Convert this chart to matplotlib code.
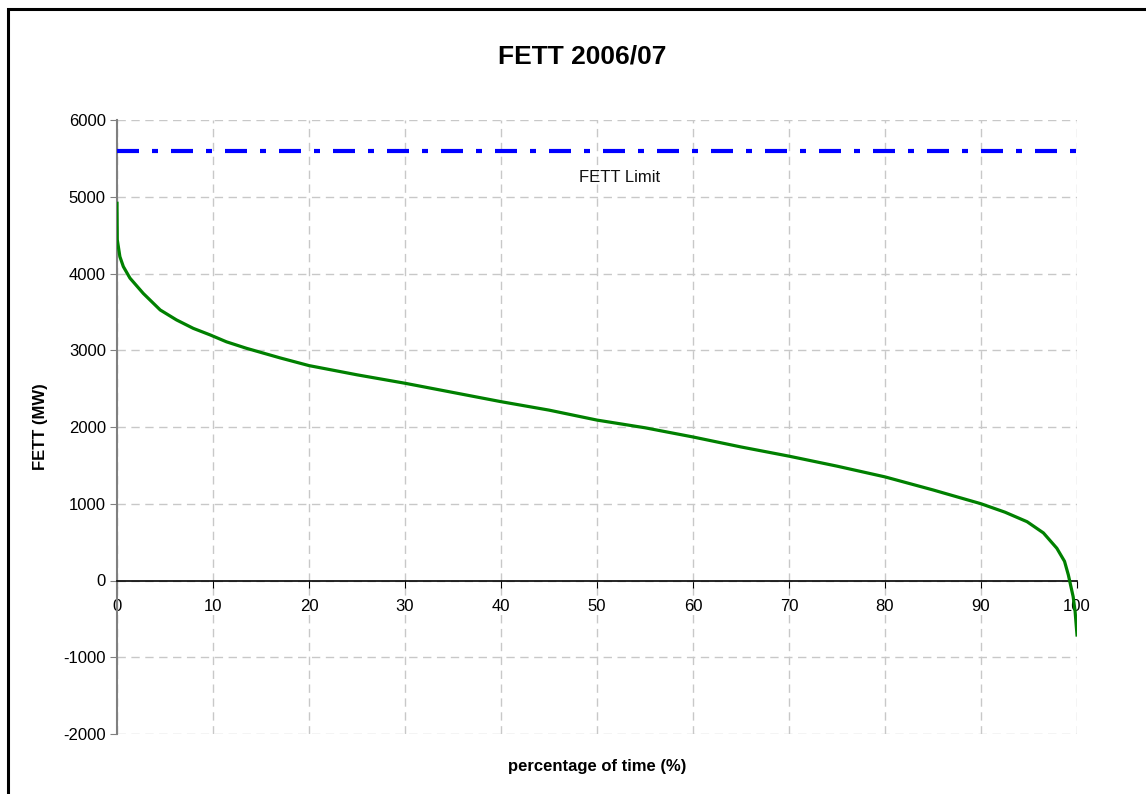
import matplotlib
matplotlib.use("Agg")
import matplotlib.pyplot as plt
from matplotlib.patches import Rectangle

plt.rcParams['font.family'] = ['Liberation Sans', 'DejaVu Sans']
plt.rcParams['axes.unicode_minus'] = False

# Data
pct = [0, 0.03, 0.3, 0.66, 1.35, 2.74, 4.5, 6.2, 7.95, 9.7, 11.4, 13.5, 17, 20, 25,
       30, 35, 40, 45, 50, 55, 60, 65, 70, 75, 80, 85, 90, 92.5, 94.8, 96.5, 97.9,
       98.7, 99.1, 99.6, 99.8, 100]
fett_mw = [4915, 4440, 4220, 4090, 3940, 3740, 3525, 3395, 3285, 3200, 3110, 3025,
           2900, 2800, 2680, 2570, 2450, 2330, 2220, 2090, 1990, 1870, 1740, 1620,
           1490, 1350, 1180, 1000, 890, 766, 620, 420, 250, 72, -211, -400, -710]
limit_x = [0, 100]
limit_mw = [5600, 5600]
x_ticks = [0, 10, 20, 30, 40, 50, 60, 70, 80, 90, 100]
y_ticks = [-2000, -1000, 0, 1000, 2000, 3000, 4000, 5000, 6000]

fig = plt.figure(figsize=(11.46, 7.94), dpi=100)
ax = fig.add_axes([117/1146, 1-734/794, (1077-117)/1146, (734-120)/794])

ax.set_xlim(0, 100)
ax.set_ylim(-2000, 6000)
ax.set_xticks(x_ticks)
ax.set_yticks(y_ticks)

ax.grid(True, color='#c8c8c8', linestyle=(0, (6, 4)), linewidth=1.0)
ax.set_axisbelow(True)

ax.plot(limit_x, limit_mw, color='#0000ff', linewidth=3.0,
        dashes=(5.28, 3.12, 1.44, 3.12), solid_capstyle='butt', dash_capstyle='butt',
        zorder=3)
ax.plot(pct, fett_mw, color='#008000', linewidth=2.3, zorder=4)

ax.text(52.3, 5251, 'FETT Limit', ha='center', va='center', fontsize=12, color='#111111')

for s in ['top', 'right']:
    ax.spines[s].set_visible(False)
ax.spines['left'].set_color('#808080')
ax.spines['left'].set_linewidth(1.5)
ax.spines['bottom'].set_position(('data', 0))
ax.spines['bottom'].set_color('black')
ax.spines['bottom'].set_linewidth(1.2)

ax.tick_params(axis='x', direction='out', length=5, color='black', labelsize=12, pad=8)
ax.tick_params(axis='y', direction='out', length=5, color='#808080', labelsize=12, pad=3)

fig.text(40/1146, 1-427/794, 'FETT (MW)', ha='center', va='center', rotation=90,
         fontsize=12, fontweight='bold')
fig.text(597/1146, 1-767/794, 'percentage of time (%)', ha='center', va='center',
         fontsize=12, fontweight='bold')
fig.text(582/1146, 1-57/794, 'FETT 2006/07', ha='center', va='center',
         fontsize=19, fontweight='bold')

fig.add_artist(Rectangle((7.5/1146, -0.1), 2, 1.1 - 8.5/794, transform=fig.transFigure,
                         fill=False, edgecolor='black', linewidth=2.2))

fig.savefig('out.png', dpi=100)
